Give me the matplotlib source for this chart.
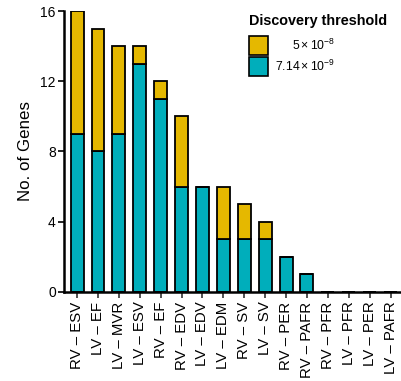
import matplotlib.pyplot as plt
from matplotlib.patches import Rectangle

plt.rcParams['font.family'] = ['Liberation Sans', 'DejaVu Sans']
plt.rcParams['mathtext.fontset'] = 'custom'
plt.rcParams['mathtext.rm'] = 'Liberation Sans'
plt.rcParams['mathtext.it'] = 'Liberation Sans:italic'

traits = ['RV – ESV', 'LV – EF', 'LV – MVR', 'LV – ESV', 'RV – EF', 'RV – EDV',
          'LV – EDV', 'LV – EDM', 'RV – SV', 'LV – SV', 'RV – PER', 'RV – PAFR',
          'RV – PFR', 'LV – PFR', 'LV – PER', 'LV – PAFR']
# genes passing the stricter threshold, and total at 5e-8
strict = [9, 8, 9, 13, 11, 6, 6, 3, 3, 3, 2, 1, 0, 0, 0, 0]
total = [16, 15, 14, 14, 12, 10, 6, 6, 5, 4, 2, 1, 0, 0, 0, 0]
extra = [t - s for t, s in zip(total, strict)]

GOLD = '#E5B800'
TEAL = '#00AEBB'

fig = plt.figure(figsize=(4.01, 3.81), dpi=100)
ax = fig.add_axes([0.16, 0.234, 0.84, 0.737])

x = list(range(len(traits)))
ax.bar(x, strict, width=0.62, color=TEAL, edgecolor='black', linewidth=1.3, zorder=2)
ax.bar(x, extra, bottom=strict, width=0.62, color=GOLD, edgecolor='black', linewidth=1.3, zorder=2)

ax.set_xlim(-0.62, 15.5)
ax.set_ylim(0, 16)
ax.set_yticks([0, 4, 8, 12, 16])
ax.set_xticks(x)
ax.set_xticklabels(traits, rotation=90, fontsize=10.8)
ax.tick_params(axis='y', labelsize=10, length=4, width=1.2, pad=2)
ax.tick_params(axis='x', length=4, width=1.2, pad=3, color='#333333')
ax.set_ylabel('No. of Genes', fontsize=12.2, labelpad=5)
for s in ['top', 'right']:
    ax.spines[s].set_visible(False)
for s in ['left', 'bottom']:
    ax.spines[s].set_linewidth(1.8)

# legend drawn by hand so the labels sit right-aligned
fig.text(249/401, 1 - 21/381, 'Discovery threshold', fontsize=10.4, fontweight='bold',
         ha='left', va='center')
for i, (col, lab) in enumerate([(GOLD, r'$5\times10^{-8}$'), (TEAL, r'$7.14\times10^{-9}$')]):
    y0 = 1 - (55 + i * 21) / 381
    fig.patches.append(Rectangle((249/401, y0), 19/401, 19/381, transform=fig.transFigure,
                                 facecolor=col, edgecolor='black', linewidth=1.2))
    fig.text(335/401, y0 + 9.5/381, lab, fontsize=8.8, ha='right', va='center')

plt.savefig('out.png', dpi=100)
